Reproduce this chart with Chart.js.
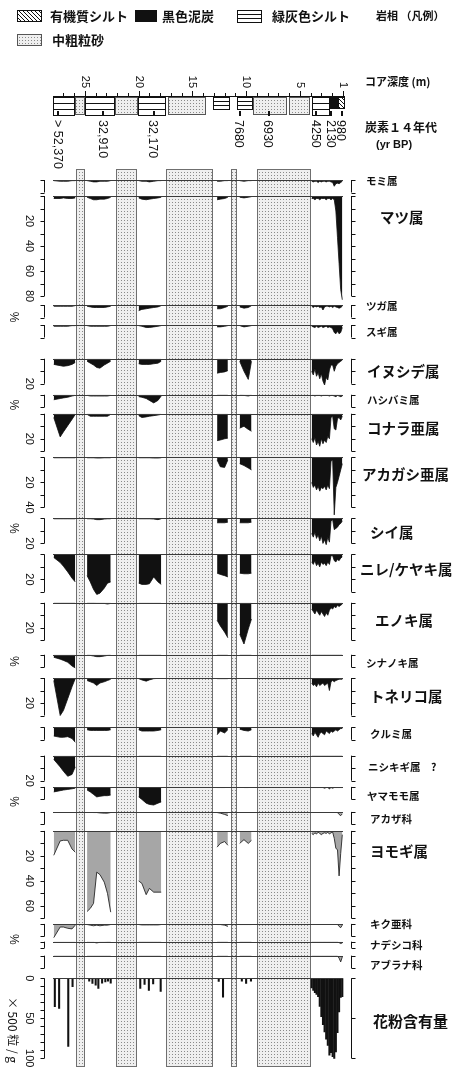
<!DOCTYPE html>
<html>
<head>
<meta charset="utf-8">
<script src="https://cdn.jsdelivr.net/npm/chart.js@4.4.1/dist/chart.umd.min.js"></script>
<style>
  html, body { margin: 0; padding: 0; background: #fff; }
  canvas { display: block; }
</style>
</head>
<body>
<canvas id="pollen" width="456" height="1070"></canvas>
<script>
// 試料の深度 (m)：砂層で区切られた区間ごと
const sectionDepths = [
  [27.9, 27.3, 27.0, 26.6, 26.2, 25.9],
  [24.8, 24.5, 24.2, 23.9, 23.6, 23.2, 22.9, 22.6],
  [20.0, 19.7, 19.3, 19.0, 18.6, 18.2, 17.9],
  [12.7, 12.4, 12.0, 11.7],
  [10.6, 10.2, 9.8, 9.5],
  [3.9, 3.75, 3.6, 3.45, 3.3, 3.15, 3.0, 2.85, 2.7, 2.55, 2.4, 2.25, 2.1, 1.95, 1.8, 1.65, 1.5, 1.35, 1.2, 1.05]
];

const taxonNames = ["モミ属", "マツ属", "ツガ属", "スギ属", "イヌシデ属", "ハシバミ属", "コナラ亜属", "アカガシ亜属",
  "シイ属", "ニレ/ケヤキ属", "エノキ属", "シナノキ属", "トネリコ属", "クルミ属", "ニシキギ属　?", "ヤマモモ属",
  "アカザ科", "ヨモギ属", "キク亜科", "ナデシコ科", "アブラナ科"];
const herbTaxa = ["アカザ科", "ヨモギ属", "キク亜科", "ナデシコ科", "アブラナ科"];

// 出現率 (%)
const pctMomi = [[0.5,1,1,1,0.5,0.5],[0.5,1,1.5,1.5,1,1,1,0.5],[0.5,1,1,1.5,1,0.5,0.5],[1,1,0.5,0.5],[0.5,1,0.5,0.5],
  [1,1.5,1,1,2,1,1.5,1,1,1.5,1,1,1.5,2,5,3,2.5,3,2,1]];
const pctMatsu = [[2,2,1.5,2,2,1.5],[1,2,3,3,2.5,2.5,2,1],[1.5,2.5,3,2.5,2,1.5,1],[3,2.5,2,1],[1,1.5,1,0.5],
  [2,2,3,2,2,3,2,2,2,3,2,2,3,2,3,12,33,54,75,83]];
const pctTsuga = [[1,1,1,1,1,0.5],[1,1.5,2,2,2,2,1.5,1],[4.5,3.5,3,2.5,2,1.5,0.5],[3,3,2,1],[1.5,2.5,2,0.5],
  [1,2,1,1.5,1,2,1.5,4,1.5,1,1,1.5,1,2,1,1.5,2,2.5,2,1]];
const pctSugi = [[1,1,1,1,0.5,0.5],[0.5,1,1,1,1,1,1,0.5],[0.5,1,2,2,1.5,1,0.5],[1.5,1.5,1,0.5],[0.5,1.5,1,0.5],
  [1,1.5,2,1,2,1.5,1,2,1.5,1,2,1.5,2,3,6,7,5,7,6,2]];
const pctInushide = [[4.5,5.5,6,5.5,4.5,3],[2,3.5,5,7,7.5,5,3.5,2],[4,4.5,4.5,4.5,4,3.5,2],[11.5,11,10.5,9.5],[2,10,16.5,2],
  [10,13,8,14,11,16,12,18,21,15,17,9,5,5,10,6,4,3,2,1]];
const pctHashibami = [[4,3,2.5,2,1,0.5],[0.5,1,1,1,1,1,1,0.5],[1.5,2,3,4.5,6.5,4.5,1],[0.3,0.3,0.3,0.3],[0.3,0.5,1,0.3],
  [0.5,0.5,1,0.5,0.5,0.5,1,0.5,0.5,0.5,0.5,1,0.5,0.5,1,1.5,0.5,1,1.5,1]];
const pctKonara = [[3,18.5,14.5,9.5,4.5,0.5],[0.5,2,2,2,2,2,2,0.5],[1.5,3,2.5,2,1.5,1,0.5],[21.5,21,20,19.5],[11.5,10,12.5,14],
  [20,23,19,25,22,26,20,24,21,23,18,20,3,2,12,13,4,3,5,2]];
const pctAkagashi = [[0.3,0.3,0.3,0.3,0.3,0.3],[0.3,0.3,0.3,0.5,0.5,0.3,0.3,0.3],[0.3,0.3,0.3,0.3,0.5,0.5,0.3],[2,7.5,8,2],[5,6.5,8.5,10],
  [20,24,22,26,23,27,24,25,23,26,22,25,3,2,46,24,20,15,10,5]];
const pctShii = [[0.3,0.3,0.3,0.3,0.3,0.3],[0.3,0.3,0.5,1,1,0.5,0.3,0.3],[0.3,0.3,0.3,0.3,0.5,1,0.3],[3.5,3.5,3.5,3],[3.5,3.5,3.5,3],
  [12,15,11,16,13,18,14,20,17,21,15,19,2,1,9,8,7,5,4,2]];
const pctNire = [[2.5,6.5,9.5,14,19,22],[17,22,28,32,31,27,23,22],[23,24,24,23.5,18,22,24],[15,16,17,18],[15,15.5,15.5,15],
  [6,8,5,9,7,10,6,8,7,9,6,8,1,1,5,6,4,5,3,2]];
const pctEnoki = [[0.3,0.3,0.3,0.3,0.3,0.3],[0.3,0.3,0.3,0.5,0.5,0.5,1,0.5],[0.5,0.5,0.5,0.5,0.5,0.5,0.5],[14,18.5,23.5,28],[25,33,21,13],
  [5,7,9,6,8,10,7,9,11,8,10,6,4,5,3,4,2,3,2,1]];
const pctShinanoki = [[2,3.5,4.5,6,9,10.5],[0.3,0.5,1,1.5,1.5,1,0.5,0.3],[0.3,0.3,0.3,0.3,0.3,0.3,0.3],[0.3,0.3,0.3,0.3],[0.3,0.3,0.3,0.3],
  [0.2,0.2,0.2,0.2,0.2,0.2,0.2,0.2,0.2,0.2,0.2,0.2,0.2,0.2,0.2,0.2,0.2,0.2,0.2,0.2]];
const pctTonerico = [[2,30,26,16.5,7,0.5],[2,3,4,6,4,3,2,1],[0.5,1.5,2.5,1.5,0.5,0.3,0.3],[0.5,0.5,0.5,0.5],[0.3,0.3,0.3,0.3],
  [4,6,5,7,4,6,5,4,6,5,4,10,3,2,3,2,1.5,1,1,1]];
const pctKurumi = [[7,8,8,7.5,9,12],[2,2.5,2.5,2.5,2.5,2.5,2.5,2],[2,3,3,3,3,2.5,2],[6,3,4.5,2],[1.5,2.5,3,2],
  [5,7,4,6,8,5,4,5,6,3,4,5,3,4,3,2,3,2,1,1]];
const pctNishikigi = [[3,9,12.5,16.5,15,9],[0.3,0.3,0.3,0.3,0.3,0.3,0.3,0.3],[0.3,0.3,0.3,0.3,0.3,0.3,0.3],[0.3,0.3,0.3,0.3],[0.3,0.3,0.3,0.3],
  [0.2,0.2,0.2,0.2,0.2,0.2,0.2,0.2,0.2,0.2,0.2,0.2,0.2,0.2,0.2,0.2,0.2,0.2,0.2,0.2]];
const pctYamamomo = [[4,3,2.5,2,1.5,1],[2.5,4,6,8,7.5,7,7,6.5],[8,10,13,14,14.5,13,12],[0.5,0.5,0.5,0.3],[0.3,0.5,0.5,0.3],
  [0.5,0.5,0.5,0.5,0.5,0.5,0.5,0.5,1,0.5,0.5,1.5,0.5,1,0.5,0.5,0.5,0.5,0.5,0.5]];
const pctAkaza = [[0.3,0.3,0.3,0.3,0.3,0.3],[0.3,0.3,0.5,0.5,0.8,1,1,0.5],[0.3,0.3,0.3,0.3,0.3,0.3,0.3],[0.5,1,2,3],[0.3,0.3,0.3,0.3],
  [0.3,0.3,0.3,0.3,0.3,0.3,0.3,0.3,0.3,0.3,0.3,0.3,0.3,0.3,0.3,0.3,0.5,2,3,1.5]];
const pctYomogi = [[19.5,8,7.5,7.5,14.5,17],[64.5,62,58,33,35,41,50,65],[40,42,51,46,49,49,49],[13,10,8.5,11.5],[10,7,10,7.5],
  [2,3,1.5,2.5,1,2,3,2,1.5,2,1,2.5,1.5,1,6,14,15,36,18,3]];
const pctKiku = [[11,2.5,2.5,3.5,4,1],[0.5,1,1.5,1,1.5,1,1,0.5],[0.5,0.8,0.8,0.8,0.8,0.8,0.5],[0.5,0.5,1,2],[0.5,0.5,0.5,0.5],
  [0.3,0.3,0.3,0.3,0.3,0.3,0.3,0.3,0.3,0.3,0.3,0.3,0.3,0.3,0.3,0.3,0.3,2,3,1]];
const pctNadeshiko = [[0.5,0.5,0.5,0.5,0.5,0.5],[0.3,0.5,0.5,1,0.5,0.5,0.3,0.3],[0.3,0.3,0.3,0.3,0.3,0.3,0.3],[0.3,0.3,0.3,0.3],[0.3,0.3,0.3,0.3],
  [0.3,0.3,0.3,0.3,0.3,0.3,0.3,0.3,0.3,0.3,0.3,0.3,0.3,0.3,0.3,0.3,0.3,0.8,1.5,1]];
const pctAburana = [[0.2,0.2,0.2,0.2,0.2,0.2],[0.2,0.2,0.2,0.2,0.2,0.2,0.2,0.2],[0.2,0.2,0.2,0.2,0.2,0.2,0.2],[0.2,0.2,0.2,0.2],[0.2,0.2,0.2,0.2],
  [0.2,0.2,0.2,0.2,0.2,0.2,0.2,0.2,0.2,0.2,0.2,0.2,0.2,0.2,0.2,0.2,0.2,2,5,1]];

const taxonPct = [pctMomi, pctMatsu, pctTsuga, pctSugi, pctInushide, pctHashibami, pctKonara, pctAkagashi, pctShii,
  pctNire, pctEnoki, pctShinanoki, pctTonerico, pctKurumi, pctNishikigi, pctYamamomo, pctAkaza, pctYomogi, pctKiku,
  pctNadeshiko, pctAburana];
// 各属のスケール上限 (%)
const taxonScaleMax = [10, 80, 10, 10, 20, 10, 30, 40, 20, 30, 30, 10, 30, 10, 20, 10, 10, 70, 10, 5, 10];

// 花粉含有量 (×500粒/g)
const concDepths = [27.8, 27.4, 26.55, 26.15, 24.6, 24.3, 24.0, 23.75, 23.4, 23.1, 22.85, 22.6, 19.85, 19.45, 19.05, 18.65, 17.95,
  12.55, 12.15, 10.4, 10.0, 9.55,
  3.9, 3.75, 3.6, 3.45, 3.3, 3.15, 3.0, 2.85, 2.7, 2.55, 2.4, 2.25, 2.1, 1.95, 1.8, 1.65, 1.5, 1.35, 1.2, 1.05];
const concValues = [35.5, 37.5, 85, 10.5, 3.5, 6.5, 8.5, 12.5, 6, 4.5, 3.5, 6, 12.5, 7.5, 15, 7, 16.5,
  4, 23.5, 3.5, 6.5, 3.5,
  12, 15, 18, 20, 23, 35, 48, 58, 67, 76, 84, 96, 93, 98, 100, 92, 68, 42, 24, 23];
const concTicks = [0, 50, 100];

// 岩相
const lithFrom = [27.97, 25.93, 25.0, 22.2, 20.1, 17.3, 13.09, 10.86, 9.37, 6.0, 3.88, 2.21, 1.47];
const lithTo = [25.93, 25.0, 22.2, 20.1, 17.45, 13.74, 11.51, 9.37, 6.2, 4.07, 2.21, 1.47, 0.81];
const lithType = ["silt", "sand", "silt", "sand", "silt", "sand", "silt", "silt", "sand", "sand", "silt", "peat", "organic"];
const sandFrom = [25.85, 22.1, 17.45, 11.4, 9.0];
const sandTo = [25.0, 20.15, 13.1, 10.85, 3.98];

// 炭素14年代
const dateDepths = [27.5, 23.3, 18.6, 10.6, 7.9, 3.5, 2.1, 1.1];
const dateLabels = ["> 52,370", "32,910", "32,170", "7680", "6930", "4250", "2130", "980"];
const depthLabels = [1, 5, 10, 15, 20, 25];

const legendNames = ["有機質シルト", "黒色泥炭", "緑灰色シルト", "中粗粒砂"];

// ---- layout (px / % units) ----
const PX_PER_PCT = 1.25;
const PX_PER_CONC = 0.8;
const rowSpan = [12.8, 87.2, 16, 27, 28.8, 15.2, 34.9, 48.8, 28.8, 38.7, 41.6, 18.6, 39.4, 22.7, 25, 20, 15.2, 74.4, 14.2, 11.2, 18.1];
const topPad = 8.8;
const concRowPx = 88.7;
const bigLabel = [1, 4, 6, 7, 8, 9, 10, 12, 17];
const labelX = [366, 380, 366, 366, 367, 367, 367, 362, 370, 360, 375, 366, 370, 370, 368, 367, 370, 370, 370, 370, 370];
const labelDy = [1, 21, 1, 7, 13, 5, 15, 17, 14, 15, 18, 8, 18, 7, 11, 9, 7, 21, 0, 3, 9];
const unitAfter = [1, 4, 7, 10, 14, 17];

const numFont = '"Liberation Sans", Arial, sans-serif';
const jpFont = '"Noto Sans CJK JP", "Noto Sans", sans-serif';

function toPoints(depthSets, valueSets) {
  const pts = [];
  depthSets.forEach((ds, s) => {
    if (s > 0) {
      const prev = depthSets[s - 1];
      pts.push({ x: (prev[prev.length - 1] + ds[0]) / 2, y: null });
    }
    ds.forEach((d, k) => pts.push({ x: d, y: valueSets[s][k] }));
  });
  return pts;
}

function makePattern(ctx, kind) {
  const c = document.createElement("canvas");
  const g = c.getContext("2d");
  if (kind === "dots") {
    c.width = 3; c.height = 3;
    g.fillStyle = "#efefef"; g.fillRect(0, 0, 3, 3);
    g.fillStyle = "#8a8a8a"; g.fillRect(1, 1, 1, 1);
  } else {
    c.width = 4; c.height = 4;
    g.fillStyle = "#fff"; g.fillRect(0, 0, 4, 4);
    g.strokeStyle = "#111"; g.lineWidth = 1;
    g.beginPath();
    g.moveTo(-1, -1); g.lineTo(5, 5);
    g.moveTo(-1, 3); g.lineTo(1, 5);
    g.moveTo(3, -1); g.lineTo(5, 1);
    g.stroke();
  }
  return ctx.createPattern(c, "repeat");
}

function drawSwatch(ctx, kind, x, y, w, h) {
  ctx.save();
  ctx.lineWidth = 1;
  ctx.strokeStyle = "#111";
  if (kind === "peat") {
    ctx.fillStyle = "#111"; ctx.fillRect(x, y, w, h);
  } else if (kind === "silt") {
    ctx.fillStyle = "#fff"; ctx.fillRect(x, y, w, h);
    ctx.beginPath();
    [0, 1 / 3, 2 / 3, 1].forEach(f => {
      const yy = Math.round(y + f * h) + 0.5;
      ctx.moveTo(x, yy); ctx.lineTo(x + w, yy);
    });
    ctx.stroke();
    ctx.strokeRect(x + 0.5, y + 0.5, w - 1, h);
  } else {
    ctx.fillStyle = makePattern(ctx, kind === "sand" ? "dots" : "hatch");
    ctx.fillRect(x, y, w, h);
    ctx.strokeStyle = kind === "sand" ? "#555" : "#111";
    ctx.strokeRect(x + 0.5, y + 0.5, w - 1, h - 1);
  }
  ctx.restore();
}

function rotText(ctx, text, x, y, font, align) {
  ctx.save();
  ctx.translate(x, y);
  ctx.rotate(Math.PI / 2);
  ctx.font = font;
  ctx.textAlign = align;
  ctx.textBaseline = "middle";
  ctx.fillText(text, 0, 0);
  ctx.restore();
}

function drawBracket(ctx, scale, max, step, xLine, dir) {
  const y0 = scale.getPixelForValue(0), y1 = scale.getPixelForValue(max);
  ctx.beginPath();
  ctx.moveTo(xLine + 0.5, y0); ctx.lineTo(xLine + 0.5, y1);
  const vals = [];
  for (let v = 0; v <= max + 1e-6; v += step) vals.push(v);
  if (vals[vals.length - 1] !== max) vals.push(max);
  vals.forEach(v => {
    const y = Math.round(scale.getPixelForValue(v)) + 0.5;
    ctx.moveTo(xLine + 0.5, y); ctx.lineTo(xLine + 0.5 + dir * 4, y);
  });
  ctx.stroke();
}

const diagramPlugin = {
  id: "pollenDiagram",
  beforeDatasetsDraw(chart) {
    const { ctx, chartArea, scales } = chart;
    const x = scales.x;
    ctx.save();
    ctx.fillStyle = makePattern(ctx, "dots");
    ctx.strokeStyle = "#6f6f6f";
    ctx.lineWidth = 1;
    sandFrom.forEach((d0, i) => {
      const x0 = Math.round(x.getPixelForValue(d0)), x1 = Math.round(x.getPixelForValue(sandTo[i]));
      ctx.fillRect(x0, chartArea.top, x1 - x0, chartArea.bottom - chartArea.top);
      ctx.strokeRect(x0 + 0.5, chartArea.top + 0.5, x1 - x0 - 1, chartArea.bottom - chartArea.top - 1);
    });
    ctx.restore();
  },
  afterDatasetsDraw(chart) {
    const { ctx, chartArea, scales } = chart;
    ctx.save();
    ctx.strokeStyle = "#3a3a3a";
    ctx.lineWidth = 1;
    ctx.beginPath();
    taxonNames.forEach((n, i) => {
      const y = Math.round(scales["p" + i].getPixelForValue(0)) + 0.5;
      ctx.moveTo(chartArea.left, y); ctx.lineTo(chartArea.right - 2, y);
    });
    const yc = Math.round(scales.conc.getPixelForValue(0)) + 0.5;
    ctx.moveTo(chartArea.left, yc); ctx.lineTo(chartArea.right - 2, yc);
    ctx.stroke();
    ctx.restore();
  },
  afterDraw(chart) {
    const { ctx, scales } = chart;
    const x = scales.x;
    ctx.save();
    ctx.fillStyle = "#111";
    ctx.strokeStyle = "#111";
    ctx.lineWidth = 1;

    // 凡例
    const legendKinds = ["organic", "peat", "silt", "sand"];
    const legendBox = [[17, 10], [135, 10], [237, 10], [17, 34]];
    const legendText = [50, 162, 272, 52];
    legendNames.forEach((name, i) => {
      drawSwatch(ctx, legendKinds[i], legendBox[i][0], legendBox[i][1], i === 1 ? 22 : 25, 12);
      ctx.fillStyle = "#111";
      ctx.font = "bold 13px " + jpFont;
      ctx.textBaseline = "middle";
      ctx.textAlign = "left";
      ctx.fillText(name, legendText[i], legendBox[i][1] + 6);
    });
    ctx.font = "bold 11px " + jpFont;
    ctx.fillText("岩相 （凡例）", 376, 16);

    // 深度軸
    const axisY = 96;
    ctx.beginPath();
    ctx.moveTo(x.getPixelForValue(27.97), axisY + 0.5); ctx.lineTo(x.getPixelForValue(0.8), axisY + 0.5);
    for (let d = 1; d <= 27; d++) {
      const px = Math.round(x.getPixelForValue(d)) + 0.5;
      const len = depthLabels.includes(d) ? 5 : 3;
      ctx.moveTo(px, axisY); ctx.lineTo(px, axisY - len);
    }
    ctx.stroke();
    depthLabels.forEach(d => rotText(ctx, String(d), x.getPixelForValue(d), 88, "11px " + numFont, "right"));
    ctx.font = "bold 11px " + jpFont;
    ctx.textAlign = "left";
    ctx.fillText("コア深度 (m)", 365, 82);

    // 岩相柱
    lithFrom.forEach((d0, i) => {
      const x0 = Math.round(x.getPixelForValue(d0)), x1 = Math.round(x.getPixelForValue(lithTo[i]));
      const thin = [6, 7, 11, 12].includes(i);
      drawSwatch(ctx, lithType[i], x0, axisY + 1, x1 - x0, thin ? 12 : 18);
    });

    // 年代
    dateDepths.forEach((d, i) => {
      const px = x.getPixelForValue(d);
      ctx.fillStyle = "#111";
      ctx.fillRect(Math.round(px) - 1, 111, 2, 5);
      rotText(ctx, dateLabels[i], px - 1, 120, "12.5px " + numFont, "left");
    });
    ctx.font = "bold 12px " + jpFont;
    ctx.textAlign = "left";
    ctx.fillText("炭素１４年代", 365, 127);
    ctx.font = "bold 11px " + numFont;
    ctx.fillText("(yr BP)", 376, 145);

    // 各属のスケールと名前
    ctx.lineWidth = 1;
    taxonNames.forEach((name, i) => {
      const s = scales["p" + i];
      const max = taxonScaleMax[i];
      drawBracket(ctx, s, max, 10, 44, -1);
      drawBracket(ctx, s, max, 10, 351, 1);
      for (let v = 20; v <= max; v += 20) {
        rotText(ctx, String(v), 29, s.getPixelForValue(v), "11px " + numFont, "center");
      }
      if (unitAfter.includes(i)) {
        rotText(ctx, "%", 13, s.getPixelForValue(max) + 21, "12px " + numFont, "center");
      }
      const big = bigLabel.includes(i);
      ctx.font = (big ? "bold 14.5px " : "bold 10.5px ") + jpFont;
      ctx.textAlign = "left";
      ctx.textBaseline = "middle";
      ctx.fillText(name, labelX[i], s.getPixelForValue(0) + labelDy[i]);
    });

    const sc = scales.conc;
    drawBracket(ctx, sc, 100, 10, 44, -1);
    drawBracket(ctx, sc, 100, 50, 351, 1);
    concTicks.forEach(v => rotText(ctx, String(v), 29, sc.getPixelForValue(v), "11px " + numFont, "center"));
    rotText(ctx, "× 500 粒 / g", 13, 1030, "12px " + jpFont, "center");
    ctx.font = "bold 15px " + jpFont;
    ctx.textAlign = "left";
    ctx.fillText("花粉含有量", 373, sc.getPixelForValue(0) + 43);
    ctx.restore();
  }
};

const scales = {
  x: { type: "linear", reverse: true, min: 0.8, max: 27.97, offset: false, display: false }
};
taxonNames.forEach((name, i) => {
  scales["p" + i] = {
    type: "linear", position: "left", stack: "rows", weight: 100 - i,
    stackWeight: rowSpan[i] + (i === 0 ? topPad : 0),
    reverse: true, min: i === 0 ? -topPad : 0, max: rowSpan[i], display: false
  };
});
scales.conc = {
  type: "linear", position: "left", stack: "rows", weight: 0,
  stackWeight: concRowPx / PX_PER_PCT,
  reverse: true, min: 0, max: concRowPx / PX_PER_CONC, display: false
};

const datasets = taxonNames.map((name, i) => ({
  type: "line",
  label: name,
  yAxisID: "p" + i,
  data: toPoints(sectionDepths, taxonPct[i]),
  borderColor: "#111",
  borderWidth: 0.8,
  backgroundColor: herbTaxa.includes(name) ? "#a6a6a6" : "#111",
  fill: "origin",
  pointRadius: 0,
  tension: 0,
  spanGaps: false
}));
datasets.push({
  type: "bar",
  label: "花粉含有量",
  yAxisID: "conc",
  data: concDepths.map((d, i) => ({ x: d, y: concValues[i] })),
  backgroundColor: "#111",
  borderWidth: 0,
  barThickness: 1.4
});

new Chart(document.getElementById("pollen").getContext("2d"), {
  type: "line",
  data: { datasets },
  options: {
    responsive: false,
    animation: false,
    events: [],
    layout: { padding: { left: 53, right: 111, top: 169, bottom: 3 } },
    scales,
    plugins: { legend: { display: false }, tooltip: { enabled: false } }
  },
  plugins: [diagramPlugin]
});
</script>
</body>
</html>
